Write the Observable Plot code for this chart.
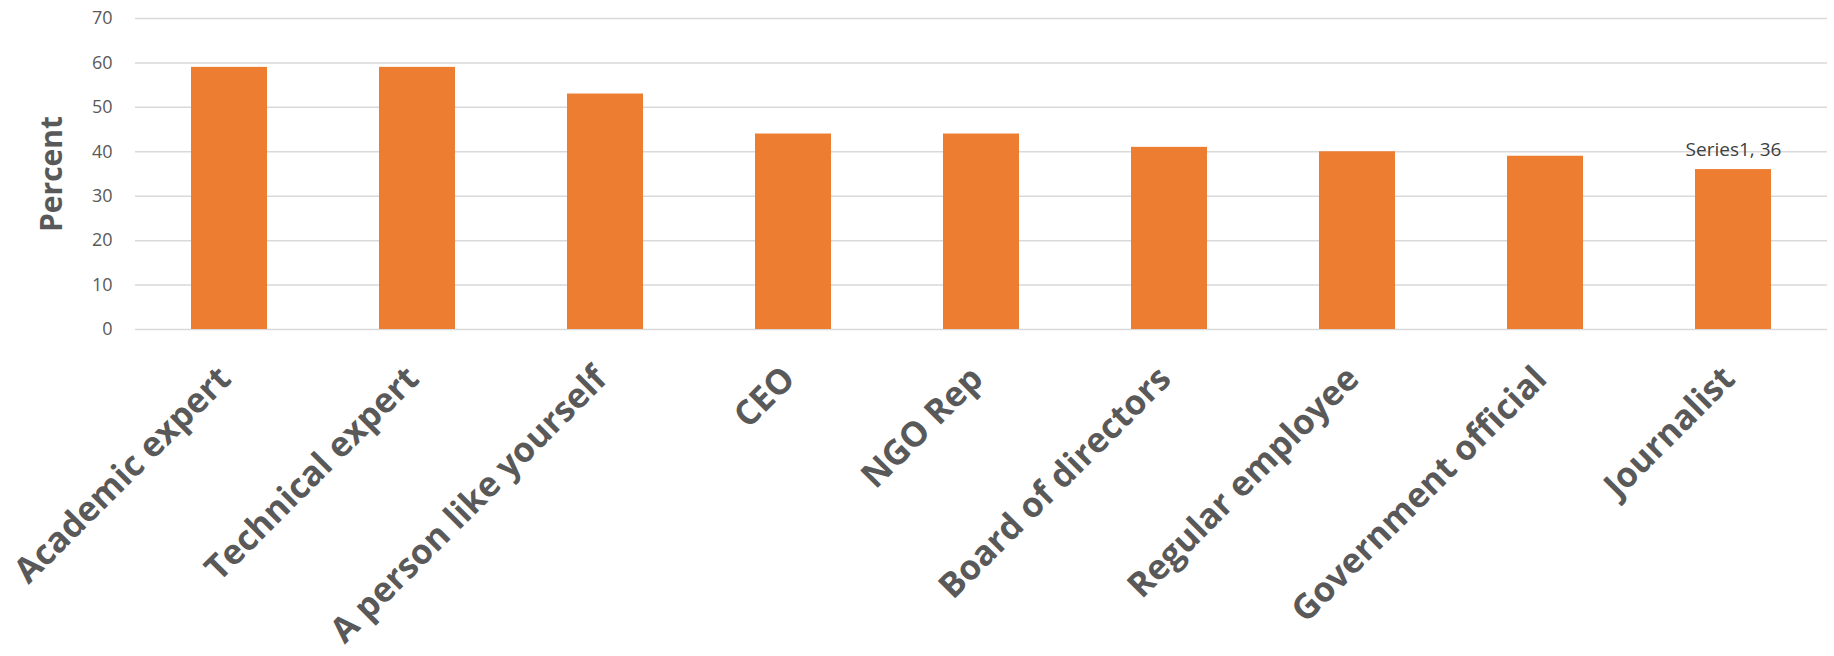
<!DOCTYPE html>
<html>
<head>
<meta charset="utf-8">
<script src="https://cdn.jsdelivr.net/npm/d3@7"></script>
<script src="https://cdn.jsdelivr.net/npm/@observablehq/plot@0.6"></script>
<style>
  html, body { margin: 0; padding: 0; background: white; }
  #chart svg { display: block; }
</style>
</head>
<body>
<div id="chart"></div>
<script>
const categories = ["Academic expert", "Technical expert", "A person like yourself", "CEO", "NGO Rep", "Board of directors", "Regular employee", "Government official", "Journalist"];
const values = [59, 59, 53, 44, 44, 41, 40, 39, 36];
const yTicks = [0, 10, 20, 30, 40, 50, 60, 70];
const seriesName = "Series1";
const labelledCategory = "Journalist";
const yLabel = "Percent";

const data = categories.map((c, i) => ({category: c, value: values[i]}));
const labelled = data.filter(d => d.category === labelledCategory);

const chart = Plot.plot({
  width: 1834,
  height: 656,
  marginLeft: 135,
  marginRight: 7,
  marginTop: 18,
  marginBottom: 327,
  style: {fontFamily: "'Open Sans', sans-serif", background: "white", overflow: "visible"},
  x: {domain: categories, paddingInner: 0.596, paddingOuter: 0.298, axis: null},
  y: {domain: [0, 70], axis: null},
  marks: [
    Plot.ruleY(yTicks, {stroke: "#d9d9d9", strokeWidth: 1.5}),
    Plot.barY(data, {x: "category", y: "value", fill: "#ED7D31"}),
    Plot.axisY({ticks: yTicks, tickSize: 0, tickPadding: 23, fontSize: 18, color: "#595959", label: null}),
    Plot.text(data, {x: "category", frameAnchor: "bottom", text: "category", rotate: -45, textAnchor: "end", lineAnchor: "top", dx: -14, dy: 34, fontSize: 34.5, fontWeight: "bold", fill: "#595959"}),
    Plot.text(labelled, {x: "category", y: "value", text: d => `${seriesName}, ${d.value}`, lineAnchor: "bottom", dy: -14, fontSize: 19, fill: "#404040"}),
    Plot.text([yLabel], {frameAnchor: "left", dx: -83, rotate: -90, textAnchor: "middle", lineAnchor: "middle", fontSize: 30, fontWeight: "bold", fill: "#595959"})
  ]
});
document.getElementById("chart").appendChild(chart);
</script>
</body>
</html>
